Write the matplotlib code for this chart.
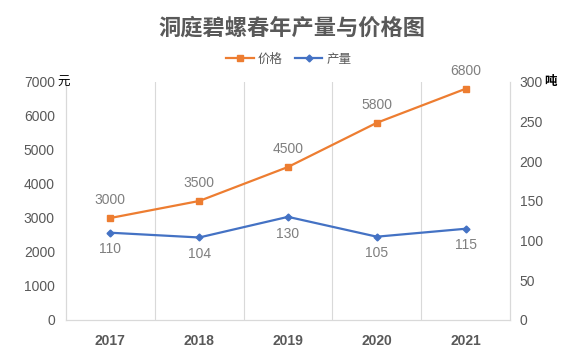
import matplotlib.pyplot as plt
import numpy as np

years = ['2017', '2018', '2019', '2020', '2021']
price = [3000, 3500, 4500, 5800, 6800]
output = [110, 104, 130, 105, 115]
price_ticks = [0, 1000, 2000, 3000, 4000, 5000, 6000, 7000]
output_ticks = [0, 50, 100, 150, 200, 250, 300]

plt.rcParams['font.family'] = ['Liberation Sans', 'Noto Sans CJK SC', 'DejaVu Sans']

orange = '#ED7D31'
blue = '#4472C4'
gray = '#595959'
grid = '#D9D9D9'

fig = plt.figure(figsize=(5.83, 3.61), dpi=100)
ax = fig.add_axes([0.1132, 0.1136, 0.7616, 0.6593])
ax2 = ax.twinx()

x = np.arange(len(years))

ax.plot(x, price, color=orange, lw=1.6, marker='s', ms=5, label='价格')
ax2.plot(x, output, color=blue, lw=1.6, marker='D', ms=3.5, label='产量')

for xi, v in zip(x, price):
    ax.annotate(str(v), (xi, v), xytext=(0, 8), textcoords='offset points',
                ha='center', va='bottom', fontsize=10, color='#7F7F7F')
for xi, v in zip(x, output):
    ax2.annotate(str(v), (xi, v), xytext=(0, -7), textcoords='offset points',
                 ha='center', va='top', fontsize=10, color='#7F7F7F')

ax.set_xlim(-0.5, 4.5)
ax.set_ylim(0, 7000)
ax2.set_ylim(0, 300)
ax.set_xticks(x)
ax.set_xticklabels(years, fontsize=10, fontweight='bold', color=gray)
ax.set_yticks(price_ticks)
ax.set_yticklabels([str(t) for t in price_ticks], fontsize=10, color=gray)
ax2.set_yticks(output_ticks)
ax2.set_yticklabels([str(t) for t in output_ticks], fontsize=10, color=gray)

ax.tick_params(axis='both', length=0)
ax.tick_params(axis='y', pad=8)
ax.tick_params(axis='x', pad=10)
ax2.tick_params(axis='y', length=0, pad=7)

for b in [0.5, 1.5, 2.5, 3.5]:
    ax.axvline(b, color=grid, lw=0.8, zorder=0)
for a in (ax, ax2):
    for s in ['top']:
        a.spines[s].set_visible(False)
    for s in ['left', 'right', 'bottom']:
        a.spines[s].set_color(grid)
        a.spines[s].set_linewidth(0.8)

fig.text(0.098, 0.773, '元', fontsize=9, color='black', ha='left', va='center',
         family=['Noto Sans CJK SC'])
fig.text(0.933, 0.773, '吨', fontsize=9, color='black', ha='left', va='center',
         family=['Noto Sans CJK SC'], fontweight='bold')

fig.suptitle('洞庭碧螺春年产量与价格图', x=0.5, y=0.955, fontsize=16,
             fontweight='bold', color=gray, family=['Noto Sans CJK SC'])

h1, l1 = ax.get_legend_handles_labels()
h2, l2 = ax2.get_legend_handles_labels()
fig.legend(h1 + h2, l1 + l2, loc='center', bbox_to_anchor=(0.495, 0.835), ncol=2,
           frameon=False, fontsize=9, handlelength=2.2, columnspacing=1.0,
           handletextpad=0.3, labelcolor=gray)

fig.savefig('out.png', dpi=100)
